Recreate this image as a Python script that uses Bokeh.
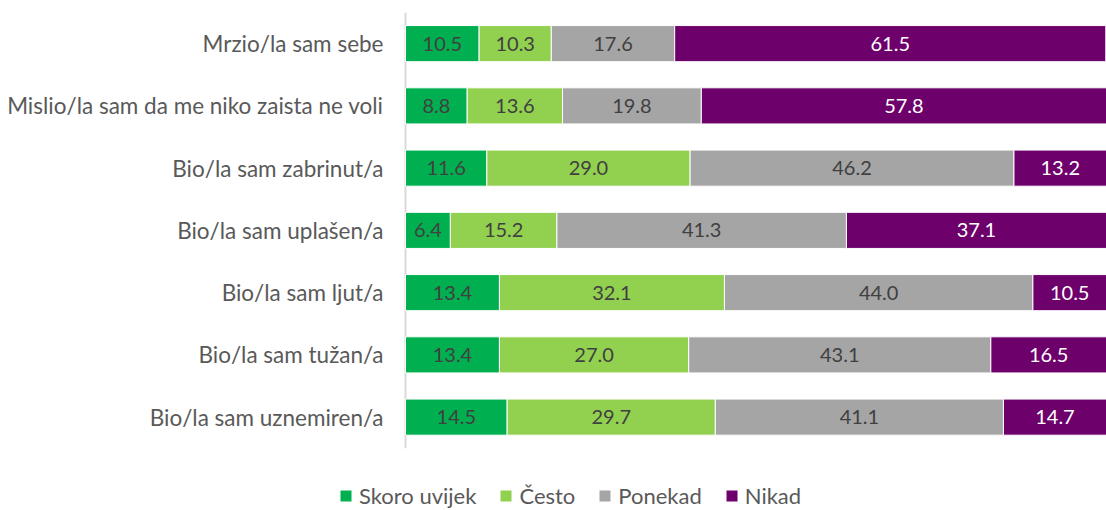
from bokeh.plotting import figure
from bokeh.models import ColumnDataSource, LabelSet, Legend, LegendItem, FactorRange, Range1d
from bokeh.core.properties import value
from bokeh.transform import dodge
from bokeh.embed import file_html
from bokeh.resources import INLINE

categories = [
    "Mrzio/la sam sebe",
    "Mislio/la sam da me niko zaista ne voli",
    "Bio/la sam zabrinut/a",
    "Bio/la sam uplašen/a",
    "Bio/la sam ljut/a",
    "Bio/la sam tužan/a",
    "Bio/la sam uznemiren/a",
]
series_names = ["Skoro uvijek", "Često", "Ponekad", "Nikad"]
skoro_uvijek = [10.5, 8.8, 11.6, 6.4, 13.4, 13.4, 14.5]
cesto = [10.3, 13.6, 29.0, 15.2, 32.1, 27.0, 29.7]
ponekad = [17.6, 19.8, 46.2, 41.3, 44.0, 43.1, 41.1]
nikad = [61.5, 57.8, 13.2, 37.1, 10.5, 16.5, 14.7]

colors = ["#00b050", "#92d050", "#a5a5a5", "#6e006c"]
label_colors = ["#404040", "#404040", "#404040", "#ffffff"]
FONT = "Lato"

keys = ["s0", "s1", "s2", "s3"]
series = [skoro_uvijek, cesto, ponekad, nikad]
data = {"cat": categories}
for k, vals in zip(keys, series):
    data[k] = vals

LEGEND_ROW = " "  # empty band under the bars that holds the legend
W, H = 1106, 510
left_px = 405
x_left = -100.0 * left_px / (W - left_px)

p = figure(
    width=W, height=H,
    y_range=FactorRange(*([LEGEND_ROW] + list(reversed(categories)))),
    x_range=Range1d(x_left, 100),
    output_backend="svg", toolbar_location=None,
    min_border_left=0, min_border_right=0, min_border_top=12, min_border_bottom=0,
)
p.outline_line_color = None
p.grid.visible = False
p.axis.visible = False

# vertical axis line at x = 0, spanning the category bands
axis_src = ColumnDataSource(dict(x=[0], top=[categories[0]], bottom=[categories[-1]]))
p.segment(x0="x", x1="x",
          y0=dodge("top", 0.5, range=p.y_range), y1=dodge("bottom", -0.5, range=p.y_range),
          source=axis_src, line_color="#d9d9d9", line_width=2)

src = ColumnDataSource(data)
renderers = p.hbar_stack(keys, y="cat", height=0.58, color=colors, source=src,
                         line_color="white", line_width=1)

# category labels
cat_src = ColumnDataSource(dict(x=[0] * len(categories), y=categories, t=categories))
p.add_layout(LabelSet(x="x", y="y", text="t", source=cat_src, x_offset=-22,
                      text_align="right", text_baseline="middle", text_color="#595959",
                      text_font=value(FONT), text_font_size="22.5px"))

# value labels
cum = [0.0] * len(categories)
for k, vals, lc in zip(keys, series, label_colors):
    mids = [c + v / 2 for c, v in zip(cum, vals)]
    cum = [c + v for c, v in zip(cum, vals)]
    ls = ColumnDataSource(dict(x=mids, y=categories, t=["%.1f" % v for v in vals]))
    p.add_layout(LabelSet(x="x", y="y", text="t", source=ls, text_align="center",
                          text_baseline="middle", text_color=lc,
                          text_font=value(FONT), text_font_size="20px"))

items = [LegendItem(label=n, renderers=[r]) for n, r in zip(series_names, renderers)]
legend = Legend(items=items, orientation="horizontal", location=(338, 1),
                label_text_font=FONT, label_text_font_size="22px",
                label_text_color="#595959", glyph_width=15, glyph_height=15,
                spacing=22, padding=0, margin=0, label_standoff=6, label_height=20,
                border_line_color=None, background_fill_alpha=0)
p.add_layout(legend, "center")

open("out.html", "w").write(file_html(p, INLINE))
